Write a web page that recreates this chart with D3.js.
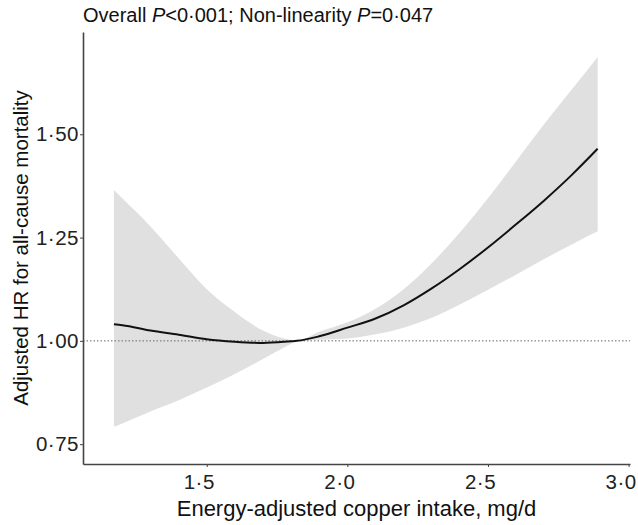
<!DOCTYPE html>
<html>
<head>
<meta charset="utf-8">
<script src="https://cdn.jsdelivr.net/npm/d3@7"></script>
<style>
  body { margin: 0; background: #fff; }
  text { font-family: "Liberation Sans", Arial, sans-serif; }
</style>
</head>
<body>
<div class="chart"></div>
<script>
// Restricted cubic spline: HR vs energy-adjusted copper intake

var copper = [1.17, 1.2, 1.3, 1.4, 1.5, 1.6, 1.7, 1.8, 1.82, 1.9, 2.0, 2.1, 2.2, 2.3, 2.4, 2.5, 2.6, 2.7, 2.8, 2.89];
var hr     = [1.040, 1.038, 1.025, 1.015, 1.004, 0.998, 0.995, 0.999, 1.000, 1.011, 1.032, 1.054, 1.086, 1.127, 1.174, 1.226, 1.282, 1.340, 1.403, 1.465];
var hrLow  = [0.792, 0.800, 0.829, 0.856, 0.887, 0.920, 0.956, 0.993, 1.000, 1.003, 1.006, 1.016, 1.032, 1.056, 1.088, 1.124, 1.160, 1.198, 1.234, 1.265];
var hrHigh = [1.365, 1.345, 1.277, 1.200, 1.125, 1.070, 1.025, 1.002, 1.000, 1.022, 1.045, 1.078, 1.125, 1.188, 1.262, 1.345, 1.435, 1.525, 1.610, 1.687];

var xTicks = [1.5, 2.0, 2.5, 3.0];
var yTicks = [0.75, 1.00, 1.25, 1.50];

var svgWidth = 638;
var svgHeight = 525;

var margin = { top: 32, right: 8, bottom: 61, left: 83 };
var width = svgWidth - margin.left - margin.right;
var height = svgHeight - margin.top - margin.bottom;

var svg = d3.select(".chart")
  .append("svg")
  .attr("width", svgWidth)
  .attr("height", svgHeight);

var chart = svg.append("g")
  .attr("transform", "translate(" + margin.left + "," + margin.top + ")");

var xScale = d3.scaleLinear()
  .domain([1.06, 3.005])
  .range([0, width]);

var yScale = d3.scaleLinear()
  .domain([0.702, 1.7475])
  .range([height, 0]);

var data = copper.map(function(c, i) {
  return { x: c, y: hr[i], lo: hrLow[i], hi: hrHigh[i] };
});

function dotFormat(f) {
  return function(d) { return d3.format(f)(d).replace(".", "\u00B7"); };
}

// confidence band
var band = d3.area()
  .curve(d3.curveMonotoneX)
  .x(function(d) { return xScale(d.x); })
  .y0(function(d) { return yScale(d.lo); })
  .y1(function(d) { return yScale(d.hi); });

chart.append("path")
  .datum(data)
  .attr("d", band)
  .attr("fill", "#e0e0e0");

// reference line at HR = 1
chart.append("line")
  .attr("x1", 0)
  .attr("x2", width)
  .attr("y1", yScale(1))
  .attr("y2", yScale(1))
  .attr("stroke", "#666")
  .attr("stroke-width", 1)
  .attr("stroke-dasharray", "1.5,2");

// HR curve
var line = d3.line()
  .curve(d3.curveMonotoneX)
  .x(function(d) { return xScale(d.x); })
  .y(function(d) { return yScale(d.y); });

chart.append("path")
  .datum(data)
  .attr("d", line)
  .attr("fill", "none")
  .attr("stroke", "#111")
  .attr("stroke-width", 2);

// axes
var bottomAxis = d3.axisBottom(xScale)
  .tickValues(xTicks)
  .tickFormat(dotFormat(".1f"))
  .tickSize(3)
  .tickSizeOuter(0);

var leftAxis = d3.axisLeft(yScale)
  .tickValues(yTicks)
  .tickFormat(dotFormat(".2f"))
  .tickSize(3)
  .tickSizeOuter(0);

var xAxis = chart.append("g")
  .attr("transform", "translate(0," + height + ")")
  .call(bottomAxis);

var yAxis = chart.append("g")
  .call(leftAxis);

[xAxis, yAxis].forEach(function(g) {
  g.select(".domain").attr("stroke", "#444").attr("stroke-width", 1.6);
  g.selectAll(".tick line").attr("stroke", "#444");
  g.selectAll(".tick text")
    .attr("fill", "#222")
    .style("font-size", "20.5px")
    .style("letter-spacing", "0.5px")
    .style("font-family", "'Liberation Sans', Arial, sans-serif");
});

xAxis.selectAll(".tick text").attr("dy", "0.92em").attr("dx", -8);
yAxis.selectAll(".tick text").attr("x", -4);

// axis titles
chart.append("text")
  .attr("x", width / 2)
  .attr("y", height + 52)
  .attr("text-anchor", "middle")
  .attr("fill", "#111")
  .style("font-size", "22px")
  .text("Energy-adjusted copper intake, mg/d");

chart.append("text")
  .attr("transform", "rotate(-90)")
  .attr("x", -height / 2)
  .attr("y", -margin.left + 28)
  .attr("text-anchor", "middle")
  .attr("fill", "#111")
  .style("font-size", "20.5px")
  .text("Adjusted HR for all-cause mortality");

// header with P values
var title = svg.append("text")
  .attr("x", margin.left)
  .attr("y", 22)
  .attr("fill", "#111")
  .style("font-size", "20px");

title.append("tspan").text("Overall ");
title.append("tspan").style("font-style", "italic").text("P");
title.append("tspan").text("<0\u00B7001; Non-linearity ");
title.append("tspan").style("font-style", "italic").text("P");
title.append("tspan").text("=0\u00B7047");
</script>
</body>
</html>
